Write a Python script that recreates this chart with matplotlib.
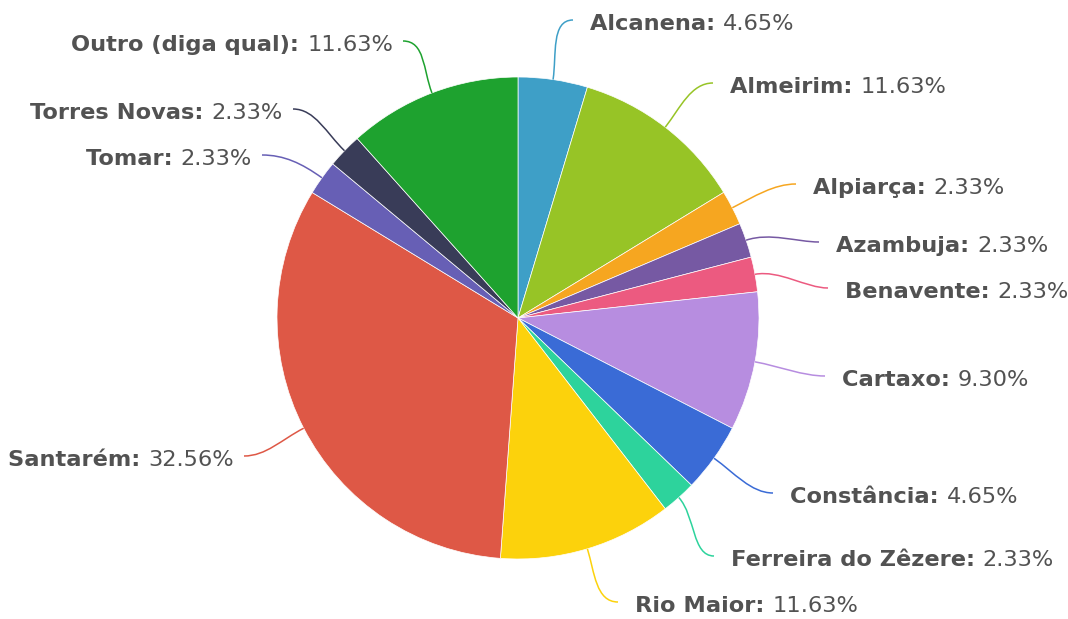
import numpy as np
import matplotlib
matplotlib.use("Agg")
import matplotlib.pyplot as plt
from matplotlib.path import Path
from matplotlib.patches import PathPatch

# ---- data ----
labels = ["Alcanena", "Almeirim", "Alpiarça", "Azambuja", "Benavente", "Cartaxo",
          "Constância", "Ferreira do Zêzere", "Rio Maior", "Santarém", "Tomar",
          "Torres Novas", "Outro (diga qual)"]
values = [4.65, 11.63, 2.33, 2.33, 2.33, 9.30, 4.65, 2.33, 11.63, 32.56, 2.33, 2.33, 11.63]
colors = ["#3e9fc7", "#97c426", "#f6a620", "#7659a3", "#ec5a80", "#b78de0",
          "#3a6bd6", "#2dd39c", "#fcd20c", "#de5846", "#675fb5", "#393c58", "#1ea22f"]

# ---- layout (pixel coordinates, y from top) ----
W, H = 1068, 619
cx, cy_top, R = 518, 318, 241
# label anchor: x (left edge for right side, right edge for left side), y center
label_pos = [(590, 24), (730, 87), (813, 188), (836, 246), (845, 292), (842, 380),
             (790, 497), (731, 560), (635, 606), (234, 460), (252, 159), (283, 113),
             (393, 45)]
text_color = "#525252"
fs = 16.2

fig = plt.figure(figsize=(W / 100, H / 100), dpi=100)
ax = fig.add_axes([0, 0, 1, 1])
cy = H - cy_top
ax.pie(values, colors=colors, startangle=90, counterclock=False,
       center=(cx, cy), radius=R,
       wedgeprops=dict(edgecolor="white", linewidth=0.5))
ax.set_xlim(0, W)
ax.set_ylim(0, H)
ax.set_aspect("equal")
ax.axis("off")

total = sum(values)
cum = np.cumsum(values)
for i, (lab, v) in enumerate(zip(labels, values)):
    theta = np.deg2rad(360 * (cum[i] - v / 2) / total)
    ux, uy = np.sin(theta), np.cos(theta)
    p0 = (cx + R * ux, cy + R * uy)
    p1 = (cx + (R + 25) * ux, cy + (R + 25) * uy)
    lx, ly = label_pos[i]
    ly_d = H - ly
    right = lx > cx
    if right:
        p3 = (lx - 17, ly_d + 4)
        p2 = (p3[0] - 22, p3[1])
    else:
        p3 = (lx + 10, ly_d + 4)
        p2 = (p3[0] + 22, p3[1])
    path = Path([p0, p1, p2, p3], [Path.MOVETO, Path.CURVE4, Path.CURVE4, Path.CURVE4])
    ax.add_patch(PathPatch(path, facecolor="none", edgecolor=colors[i], lw=1.1))

    if right:
        t1 = ax.text(lx, ly_d, lab + ": ", ha="left", va="center", fontsize=fs,
                     fontweight="bold", color=text_color)
        ax.annotate(f"{v:.2f}%", xy=(1, 0), xycoords=t1, ha="left", va="bottom",
                    fontsize=fs, color=text_color)
    else:
        t2 = ax.text(lx, ly_d, f"{v:.2f}%", ha="right", va="center", fontsize=fs,
                     color=text_color)
        ax.annotate(lab + ": ", xy=(0, 0), xycoords=t2, ha="right", va="bottom",
                    fontsize=fs, fontweight="bold", color=text_color)

fig.savefig("out.png", dpi=100)
